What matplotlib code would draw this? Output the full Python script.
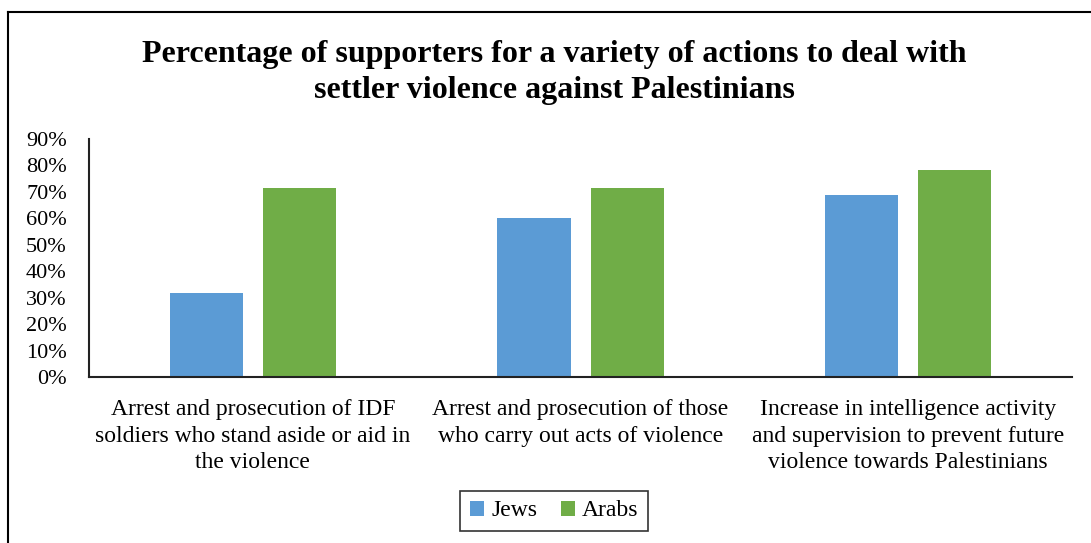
import matplotlib.pyplot as plt
from matplotlib.lines import Line2D
import numpy as np

categories = [
    "Arrest and prosecution of IDF\nsoldiers who stand aside or aid in\nthe violence",
    "Arrest and prosecution of those\nwho carry out acts of violence",
    "Increase in intelligence activity\nand supervision to prevent future\nviolence towards Palestinians",
]
jews = [31.6, 60.2, 68.7]
arabs = [71.6, 71.3, 78.2]
yticks = [0, 10, 20, 30, 40, 50, 60, 70, 80, 90]

plt.rcParams['font.family'] = ['Liberation Serif', 'DejaVu Serif']

fig = plt.figure(figsize=(10.91, 5.43), dpi=100)
ax = fig.add_axes([0.0816, 0.3057, 0.901, 0.4383])

x = np.arange(len(categories))
w = 0.223
off = 0.142
ax.bar(x - off, jews, w, color='#5B9BD5', label='Jews')
ax.bar(x + off, arabs, w, color='#70AD47', label='Arabs')

ax.set_xlim(-0.5, 2.5)
ax.set_ylim(0, 90)
ax.set_yticks(yticks)
ax.set_yticklabels([f"{t}%" for t in yticks], fontsize=16)
ax.tick_params(axis='y', length=0, pad=16)
ax.set_xticks(x)
ax.set_xticklabels(categories, fontsize=17, linespacing=1.33)
ax.tick_params(axis='x', length=0, pad=16)
for s in ['top', 'right']:
    ax.spines[s].set_visible(False)
for s in ['left', 'bottom']:
    ax.spines[s].set_linewidth(1.5)
    ax.spines[s].set_color('#222222')

fig.text(0.508, 0.866, "Percentage of supporters for a variety of actions to deal with\nsettler violence against Palestinians",
         ha='center', va='center', fontsize=23, fontweight='bold', linespacing=1.33)

leg = fig.legend(loc='center', bbox_to_anchor=(0.508, 0.059), ncol=2, fontsize=17,
                 frameon=True, fancybox=False, edgecolor='black', handlelength=0.6,
                 handleheight=0.6, handletextpad=0.3, columnspacing=1.0, borderpad=0.4)
leg.get_frame().set_linewidth(1.2)

# outer frame (partially cropped in the source)
fig.add_artist(Line2D([0.0075, 0.0075], [0.0, 0.978], transform=fig.transFigure, color='black', lw=1.5))
fig.add_artist(Line2D([0.0075, 1.0], [0.978, 0.978], transform=fig.transFigure, color='black', lw=1.5))

plt.savefig("out.png", dpi=100)
plt.close()
